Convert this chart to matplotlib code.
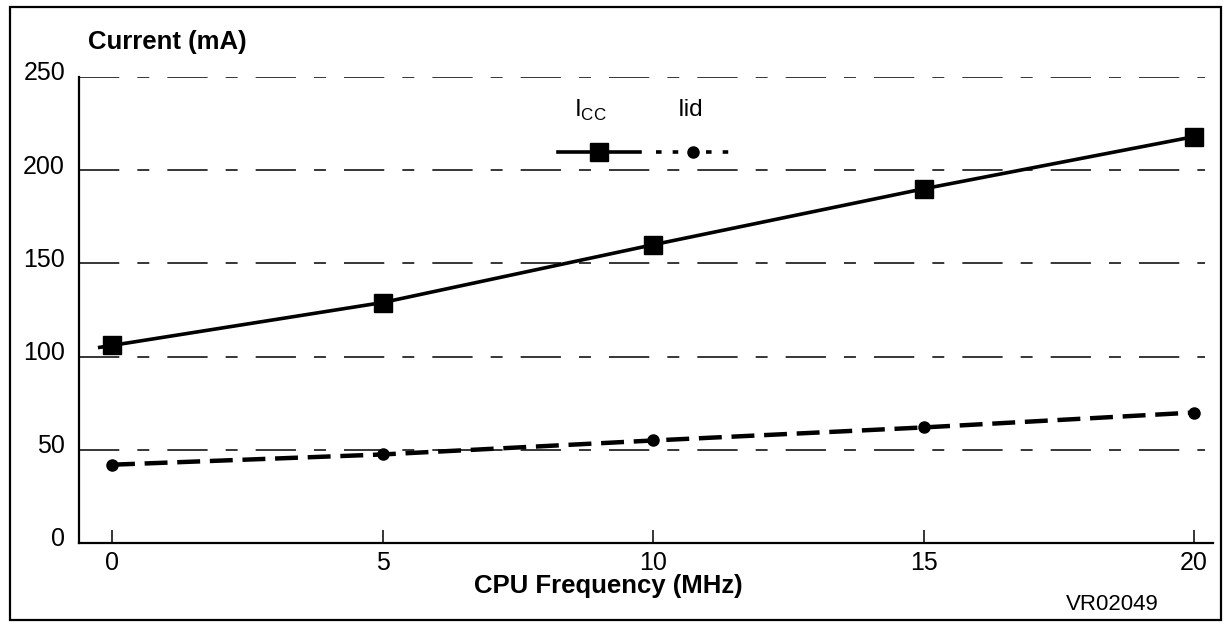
import matplotlib
matplotlib.use("Agg")
import matplotlib.pyplot as plt
from matplotlib.transforms import ScaledTranslation
from matplotlib.patches import Rectangle
from matplotlib.lines import Line2D

plt.rcParams['font.family'] = ['Liberation Sans', 'DejaVu Sans']
plt.rcParams['lines.scale_dashes'] = False

# ---- data ----
freq = [0, 5, 10, 15, 20]
icc = [106, 129, 160, 190, 218]
iid = [42, 47.5, 55, 62, 70]
xticks = [0, 5, 10, 15, 20]
yticks = [0, 50, 100, 150, 200, 250]
grid_levels = [50, 100, 150, 200, 250]

W, H = 1225, 628
fig = plt.figure(figsize=(W / 100, H / 100), dpi=100)

def fx(px):
    return px / W

def fy(py):
    return 1 - py / H

# outer frame
fig.patches.append(Rectangle((fx(10), fy(620)), fx(1221) - fx(10), fy(7) - fy(620),
                             transform=fig.transFigure, fill=False, lw=1.6,
                             edgecolor='black'))

ax = fig.add_axes([fx(79), fy(543), fx(1213) - fx(79), fy(77) - fy(543)])
ax.set_xlim(-0.61, 20.35)
ax.set_ylim(0, 250)

for s in ['top', 'right']:
    ax.spines[s].set_visible(False)
for s in ['left', 'bottom']:
    ax.spines[s].set_linewidth(1.6)

# dash-dot style grid lines
grid_style = (0, (29, 13, 8.6, 13))
ax.hlines(grid_levels, -0.61, 20.2, colors='black', linewidth=1.1,
          linestyles=[grid_style] * len(grid_levels), zorder=1)

# Icc line, drawn slightly past the first point (extension of first segment)
x_ext = -0.26
y_ext = icc[0] + (icc[1] - icc[0]) / (freq[1] - freq[0]) * x_ext
ax.plot([x_ext, freq[0]], [y_ext, icc[0]], color='black', lw=2.6, zorder=3,
        solid_capstyle='butt')
ax.plot(freq, icc, color='black', lw=2.6, marker='s', markersize=13,
        zorder=4)

# Iid dashed line
ax.plot(freq, iid, color='black', lw=3.2, linestyle=(0, (16.5, 7)),
        marker='o', markersize=8, zorder=4, dash_capstyle='butt')

# ticks
ax.set_xticks(xticks)
ax.set_xticklabels([str(v) for v in xticks])
ax.set_yticks(yticks)
ax.set_yticklabels([str(v) for v in yticks])
ax.tick_params(axis='x', direction='in', length=9.5, width=1.1, pad=5.5,
               labelsize=18)
ax.tick_params(axis='y', length=0, pad=10, labelsize=18)
for lab in ax.get_yticklabels():
    lab.set_transform(lab.get_transform() +
                      ScaledTranslation(0, 6 / 100, fig.dpi_scale_trans))

# axis titles
fig.text(fx(167), fy(42), 'Current (mA)', ha='center', va='center',
         fontsize=18.5, fontweight='bold')
fig.text(fx(608), fy(586), 'CPU Frequency (MHz)', ha='center', va='center',
         fontsize=18.5, fontweight='bold')
fig.text(fx(1112), fy(604), 'VR02049', ha='center', va='center', fontsize=16)

# legend (custom layout: labels above samples)
fig.text(fx(590), fy(110), r'I$_{\mathregular{CC}}$', ha='center', va='center',
         fontsize=17.5)
fig.text(fx(691), fy(110), 'Iid', ha='center', va='center', fontsize=17.5)
fig.add_artist(Line2D([fx(558), fx(640)], [fy(152), fy(152)],
                      transform=fig.transFigure, color='black', lw=2.6))
fig.add_artist(Line2D([fx(599)], [fy(152)], transform=fig.transFigure,
                      color='black', marker='s', markersize=13, lw=0))
fig.add_artist(Line2D([fx(656), fx(736)], [fy(152), fy(152)],
                      transform=fig.transFigure, color='black', lw=2.6,
                      linestyle=(0, (4, 8))))
fig.add_artist(Line2D([fx(693)], [fy(152)], transform=fig.transFigure,
                      color='black', marker='o', markersize=8, lw=0))

fig.savefig('out.png', dpi=100)
